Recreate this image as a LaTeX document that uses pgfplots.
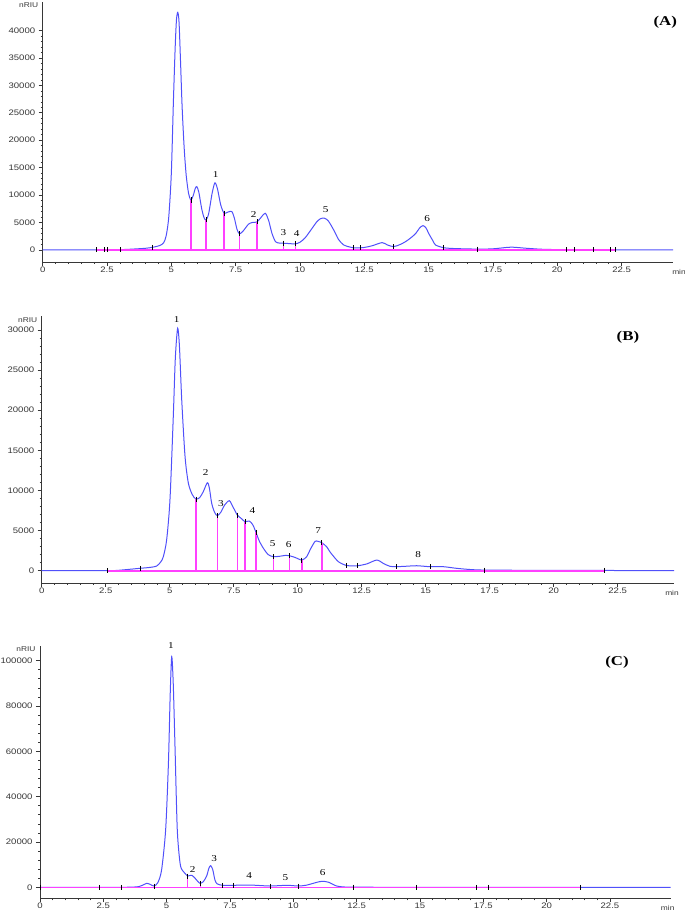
\documentclass[border=0pt]{standalone}
\usepackage{fontspec}
\setmainfont{Liberation Serif}
\newfontfamily\sansf[FakeStretch=1.2]{Liberation Sans}
\newfontfamily\serifw[FakeStretch=1.25]{Liberation Serif}
\usepackage{pgfplots}
\pgfplotsset{compat=1.18}
\definecolor{curveblue}{RGB}{80,80,250}
\definecolor{mag}{RGB}{255,64,255}
\definecolor{axgray}{RGB}{55,55,55}
\pgfplotsset{chrom/.style={
  scale only axis, clip=false,
  axis x line=bottom, axis y line=left,
  axis line style={-, axgray, line width=0.7pt},
  tick align=outside, major tick length=4bp, minor tick length=2bp,
  tick style={axgray, line width=0.6pt},
  minor tick num=4,
  xtick={0,2.5,5,7.5,10,12.5,15,17.5,20,22.5},
  xticklabels={0,2.5,5,7.5,10,12.5,15,17.5,20,22.5},
  scaled y ticks=false,
  yticklabel style={/pgf/number format/fixed,/pgf/number format/1000 sep={}},
  /pgf/number format/assume math mode=true,
  tick label style={font=\sansf\fontsize{8}{9}\selectfont, text=axgray},
  xticklabel style={yshift=2.5bp},
  curve/.style={curveblue, line width=1bp, smooth, tension=0.45},
  baseline/.style={mag, line width=1.6bp},
  drop/.style={ycomb, mag, line width=1.5bp},
  intmark/.style={only marks, mark=|, mark size=2.5bp, black, mark options={line width=0.6pt}},
}}
\newcommand{\pk}{\serifw\fontsize{9}{10}\selectfont}
\newcommand{\unitf}{\sansf\fontsize{7}{8}\selectfont}
\newcommand{\panf}{\serifw\bfseries\fontsize{13.5}{15}\selectfont}
\begin{document}
\begin{tikzpicture}[x=1bp,y=1bp]
% ---------------- Panel A ----------------
\begin{axis}[chrom, at={(42.7bp,649bp)}, anchor=south west,
  width=630.3bp, height=260bp,
  xmin=0, xmax=24.5, ymin=-2200, ymax=45200,
  ytick={0,5000,...,40000}]
\addplot[curve] coordinates {
(0,0) (1,0) (2,0) (3,50) (3.5,150) (4,300) (4.3,500) (4.55,800) (4.7,1300) (4.8,2600)
(4.9,6000) (5.0,14000) (5.08,27000) (5.15,37000) (5.2,42000) (5.25,43300) (5.3,41500)
(5.36,34000) (5.42,26000) (5.5,18500) (5.58,13500) (5.67,10300) (5.76,9100) (5.85,9900)
(5.93,11200) (5.99,11550) (6.07,10500) (6.18,7500) (6.27,5900) (6.35,5470) (6.45,6600)
(6.58,10200) (6.67,12000) (6.72,12160) (6.8,11000) (6.92,8200) (7.05,6690) (7.2,6900)
(7.35,7000) (7.45,5800) (7.55,3800) (7.65,2920) (7.8,3500) (8.0,4700) (8.15,5000)
(8.33,5100) (8.5,6000) (8.65,6690) (8.78,5400) (8.91,3040) (9.05,1500) (9.2,1250)
(9.36,1220) (9.6,1150) (9.82,1100) (10.0,1400) (10.2,2200) (10.45,3800) (10.65,5100)
(10.8,5700) (10.95,5780) (11.1,5300) (11.31,3650) (11.5,1900) (11.7,900) (11.96,500)
(12.2,350) (12.5,450) (12.8,750) (13.19,1330) (13.4,900) (13.64,600) (13.9,1000)
(14.1,1500) (14.29,2130) (14.5,3000) (14.65,4000) (14.78,4430) (14.9,4000) (15.0,3040)
(15.15,1800) (15.27,900) (15.59,400) (16.0,250) (16.9,150) (17.5,200) (18.2,500)
(18.8,300) (19.5,100) (20.5,50) (22,30) (24.5,0)};
\addplot[baseline] coordinates {(2.07,0) (22.27,0)};
\addplot[drop] coordinates {(5.76,9100) (6.35,5470) (7.05,6690) (7.65,2920) (8.33,5100) (9.36,1220) (9.82,1100)};
\addplot[intmark] coordinates {(2.07,0) (2.39,0) (2.51,0) (3.0,50) (4.27,480) (5.76,9100) (6.35,5470) (7.05,6690) (7.65,2920) (8.33,5100) (9.36,1220) (9.82,1100) (12.09,370) (12.35,420) (13.64,600) (15.59,400) (16.89,150) (20.35,50) (20.65,50) (21.4,40) (22.07,30) (22.27,30)};
\node[font=\pk] at (axis cs:6.72,13680) {1};
\node[font=\pk] at (axis cs:8.2,6510) {2};
\node[font=\pk] at (axis cs:9.36,3230) {3};
\node[font=\pk] at (axis cs:9.87,3040) {4};
\node[font=\pk] at (axis cs:11.0,7420) {5};
\node[font=\pk] at (axis cs:14.94,5650) {6};
\node[font=\unitf, text=axgray, anchor=east] at ([xshift=-1bp,yshift=-3bp]rel axis cs:0,1) {nRIU};
\node[font=\unitf, text=axgray, anchor=north] at ([xshift=6bp,yshift=-4bp]rel axis cs:1,0) {min};
\node[font=\panf] at (axis cs:24.2,41590) {(A)};
\end{axis}
% ---------------- Panel B ----------------
\begin{axis}[chrom, at={(41.7bp,328bp)}, anchor=south west,
  width=632.3bp, height=267bp,
  xmin=0, xmax=24.7, ymin=-1530, ymax=31736,
  ytick={0,5000,...,30000}]
\addplot[curve] coordinates {
(0,0) (2.5,0) (3.0,50) (3.84,300) (4.2,400) (4.49,580) (4.65,1100) (4.75,1740) (4.88,3820)
(5.01,8800) (5.14,19190) (5.22,26500) (5.31,30200) (5.38,28000) (5.47,21270) (5.6,14200)
(5.73,10890) (5.88,9500) (6.02,8930) (6.17,9100) (6.31,9840) (6.47,10960) (6.55,10300)
(6.64,8400) (6.75,7300) (6.86,6850) (7.0,7300) (7.15,8200) (7.33,8720) (7.48,7900)
(7.64,6940) (7.8,6500) (7.94,6110) (8.11,6190) (8.25,5700) (8.37,4780) (8.5,3700)
(8.66,2790) (8.85,2000) (9.05,1750) (9.3,1800) (9.5,1900) (9.67,1870) (9.9,1650)
(10.16,1330) (10.35,1740) (10.5,2700) (10.68,3660) (10.8,3650) (10.94,3490) (11.13,2990)
(11.25,2400) (11.39,1830) (11.6,1100) (11.91,650) (12.33,620) (12.7,850) (13.09,1330)
(13.35,900) (13.6,550) (13.84,500) (14.2,550) (14.65,620) (15.17,500) (15.69,500)
(16.2,300) (16.73,150) (17.3,80) (19,50) (22,30) (24.7,0)};
\addplot[baseline] coordinates {(2.58,0) (21.96,0)};
\addplot[drop] coordinates {(6.02,8930) (6.86,6850) (7.64,6940) (7.94,6110) (8.37,4780) (9.05,1750) (9.67,1870) (10.16,1330) (10.94,3490)};
\addplot[intmark] coordinates {(2.58,0) (3.84,300) (6.02,8930) (6.86,6850) (7.64,6940) (7.94,6110) (8.37,4780) (9.05,1750) (9.67,1870) (10.16,1330) (10.94,3490) (11.91,650) (12.33,620) (13.84,500) (15.17,500) (17.3,80) (21.96,30)};
\node[font=\pk] at (axis cs:5.27,31320) {1};
\node[font=\pk] at (axis cs:6.41,12210) {2};
\node[font=\pk] at (axis cs:7.0,8400) {3};
\node[font=\pk] at (axis cs:8.23,7480) {4};
\node[font=\pk] at (axis cs:9.02,3330) {5};
\node[font=\pk] at (axis cs:9.65,3290) {6};
\node[font=\pk] at (axis cs:10.8,4950) {7};
\node[font=\pk] at (axis cs:14.71,2040) {8};
\node[font=\unitf, text=axgray, anchor=east] at ([xshift=-1bp,yshift=-4bp]rel axis cs:0,1) {nRIU};
\node[font=\unitf, text=axgray, anchor=north] at ([xshift=-2bp,yshift=-4bp]rel axis cs:1,0) {min};
\node[font=\panf] at (axis cs:22.9,29120) {(B)};
\end{axis}
% ---------------- Panel C ----------------
\begin{axis}[chrom, at={(40bp,12.7bp)}, anchor=south west,
  width=630.7bp, height=252.3bp,
  xmin=0, xmax=24.9, ymin=-4852, ymax=106440,
  ytick={0,20000,...,100000}]
\addplot[curve] coordinates {
(0,0) (3.0,0) (3.55,50) (3.9,300) (4.1,1200) (4.21,1760) (4.35,1300) (4.5,570) (4.65,2000)
(4.8,7630) (4.96,25270) (5.07,54700) (5.14,85000) (5.2,101700) (5.26,90000) (5.33,62000)
(5.42,25270) (5.53,10590) (5.62,7500) (5.72,6180) (5.83,4980) (5.92,5200) (5.99,5290)
(6.1,4300) (6.22,2700) (6.32,1760) (6.45,2500) (6.58,4980) (6.67,8500) (6.74,9530)
(6.82,7800) (6.91,3090) (7.0,1500) (7.21,880) (7.63,880) (8.29,1000) (9.08,570)
(9.74,880) (10.2,570) (10.5,900) (10.79,1760) (11.0,2400) (11.18,2640) (11.4,2200)
(11.71,570) (12.0,150) (12.4,50) (15,0) (24.9,0)};
\addplot[baseline] coordinates {(0,0) (21.32,0)};
\addplot[drop] coordinates {(5.83,4980) (6.34,1760)};
\addplot[intmark] coordinates {(0,0) (2.33,0) (3.2,0) (4.5,570) (5.83,4980) (6.34,1760) (7.21,880) (7.63,880) (9.08,570) (10.2,570) (12.37,50) (14.87,0) (17.21,0) (17.7,0) (21.32,0)};
\node[font=\pk] at (axis cs:5.17,106600) {1};
\node[font=\pk] at (axis cs:6.03,7940) {2};
\node[font=\pk] at (axis cs:6.88,12790) {3};
\node[font=\pk] at (axis cs:8.26,5120) {4};
\node[font=\pk] at (axis cs:9.69,4100) {5};
\node[font=\pk] at (axis cs:11.16,6310) {6};
\node[font=\unitf, text=axgray, anchor=east] at ([xshift=-1bp,yshift=-3bp]rel axis cs:0,1) {nRIU};
\node[font=\unitf, text=axgray, anchor=north] at ([xshift=-3bp,yshift=-4bp]rel axis cs:1,0) {min};
\node[font=\panf] at (axis cs:22.78,99380) {(C)};
\end{axis}
\pgfresetboundingbox
\path (0,0) rectangle (685,911);
\end{tikzpicture}
\end{document}
